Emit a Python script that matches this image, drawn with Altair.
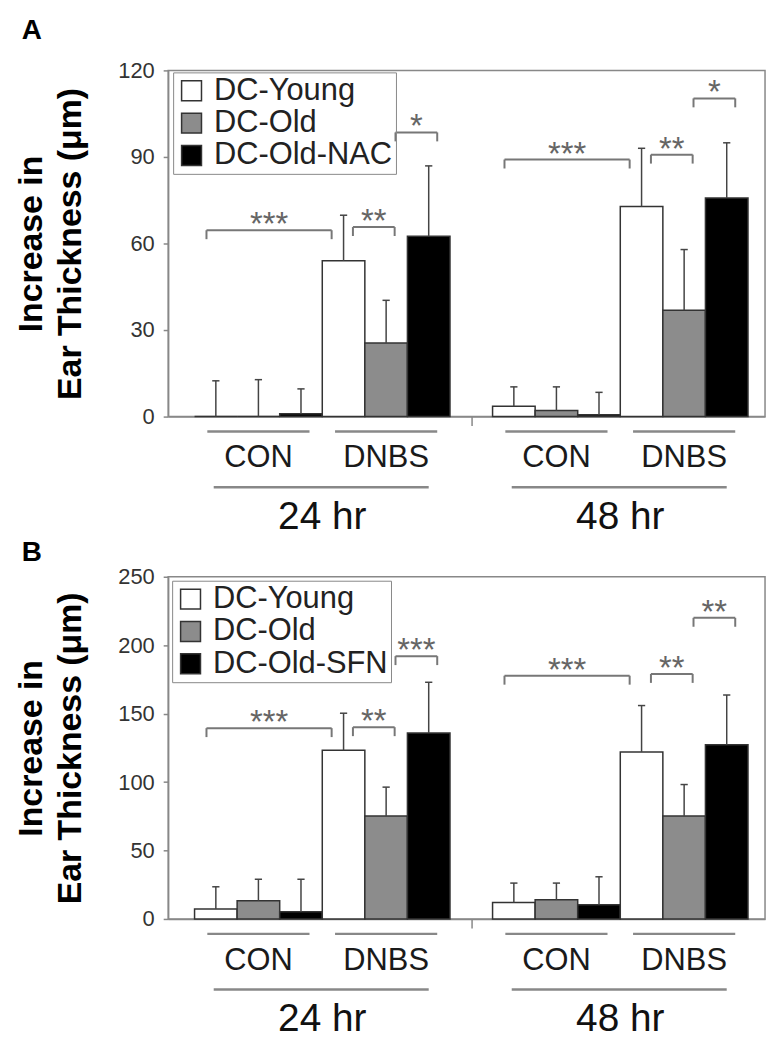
import altair as alt
import pandas as pd

# ---------------- data ----------------
times = ["24 hr", "48 hr"]
treatments = ["CON", "DNBS"]

series_A = ["DC-Young", "DC-Old", "DC-Old-NAC"]
series_B = ["DC-Young", "DC-Old", "DC-Old-SFN"]

# order: 24hr CON (Y,O,T), 24hr DNBS (Y,O,T), 48hr CON (Y,O,T), 48hr DNBS (Y,O,T)
mean_A = [0, 0, 1, 54, 25.5, 62.5, 3.6, 2.1, 0.6, 72.8, 36.9, 75.8]
err_A = [12.4, 12.8, 8.6, 15.8, 14.8, 24.4, 6.7, 8.2, 7.8, 20.2, 21.0, 19.1]

mean_B = [7.3, 13.3, 5.3, 123.2, 75.2, 135.8, 12.1, 14.1, 10.4, 122.0, 75.2, 127.3]
err_B = [16.2, 15.7, 23.7, 27.1, 21.1, 37.1, 14.1, 12.1, 20.4, 33.9, 23.0, 36.3]

# significance brackets: (left bar, right bar, height, label)
brackets_A = [(0, 3, 64.6, "***"), (3, 4, 65.7, "**"), (4, 5, 98.5, "*"),
              (6, 9, 89.1, "***"), (9, 10, 90.8, "**"), (10, 11, 110.3, "*")]
brackets_B = [(0, 3, 139.4, "***"), (3, 4, 140.1, "**"), (4, 5, 192.0, "***"),
              (6, 9, 177.7, "***"), (9, 10, 179.0, "**"), (10, 11, 220.0, "**")]

ticks_A = [0, 30, 60, 90, 120]
ticks_B = [0, 50, 100, 150, 200, 250]

# ---------------- styling ----------------
FILLS = ["white", "#8c8c8c", "black"]
W = 600
XDOM = [-0.62, 13.4]
FONT = "Liberation Sans"
GRAY = "#888888"


def slot(i):
    return i if i < 6 else i + 1


def panel(series, means, errs, brackets, ymax, yticks, height, letter, lx, ly):
    n = len(series)
    rows = []
    for i, (m, e) in enumerate(zip(means, errs)):
        s = slot(i)
        rows.append({"series": series[i % n], "value": m, "top": m + e,
                     "x0": s, "x1": s + 1, "xc": s + 0.5,
                     "c0": s + 0.5 - 0.085, "c1": s + 0.5 + 0.085})
    bars = pd.DataFrame(rows)

    xs = alt.Scale(domain=XDOM, nice=False, zero=False)
    ys = alt.Scale(domain=[0, ymax], nice=False)
    leg_px = 9.0
    leg = leg_px * ymax / height

    base = alt.Chart(bars)
    rect = base.mark_rect(stroke="#333333", strokeWidth=1.5).encode(
        x=alt.X("x0:Q", scale=xs,
                axis=alt.Axis(values=[6.5], labels=False, title=None, grid=False,
                              tickSize=9, domainColor=GRAY, tickColor=GRAY,
                              domainWidth=1.5, tickWidth=1.5)),
        x2="x1:Q",
        y=alt.Y("value:Q", scale=ys,
                axis=alt.Axis(values=yticks, grid=False, tickSize=5,
                              labelFontSize=22, labelPadding=9, labelColor="#333333",
                              labelFont=FONT, domainColor=GRAY, tickColor=GRAY,
                              domainWidth=1.5, tickWidth=1.5,
                              title=["Increase in", "Ear Thickness (\u03bcm)"],
                              titleFontSize=34, titleFontWeight="bold",
                              titleFont=FONT, titleLineHeight=40,
                              titlePadding=30, titleColor="black")),
        y2=alt.datum(0),
        fill=alt.Fill("series:N",
                      scale=alt.Scale(domain=series, range=FILLS),
                      sort=series,
                      legend=alt.Legend(title=None, orient="none", legendX=lx, legendY=ly,
                                        symbolType="square", symbolSize=400,
                                        symbolStrokeColor="#333333", symbolStrokeWidth=1.5,
                                        labelFontSize=31, labelFont=FONT,
                                        labelColor="#222222", labelOffset=7,
                                        labelLimit=400,
                                        rowPadding=0.5, padding=3,
                                        strokeColor=GRAY)),
    )
    whisk = base.mark_rule(color="#444444", strokeWidth=1.5).encode(
        x="xc:Q", y="value:Q", y2="top:Q")
    cap = base.mark_rule(color="#444444", strokeWidth=1.5).encode(
        x="c0:Q", x2="c1:Q", y="top:Q")

    brows = []
    for a, b, h, lab in brackets:
        sa, sb = slot(a), slot(b)
        if b - a > 1:
            xl, xr = sa + 0.5 - 0.22, sb + 0.5 - 0.28
        else:
            xl, xr = sa + 0.5 + 0.22, sb + 0.5 + 0.2
        brows.append({"xl": xl, "xr": xr, "xm": (xl + xr) / 2, "y": h,
                      "yl": h - leg, "label": lab})
    bdf = pd.DataFrame(brows)
    bb = alt.Chart(bdf)
    bh = bb.mark_rule(color="#777777", strokeWidth=2).encode(x="xl:Q", x2="xr:Q", y="y:Q")
    bl = bb.mark_rule(color="#777777", strokeWidth=2).encode(x="xl:Q", y="y:Q", y2="yl:Q")
    br = bb.mark_rule(color="#777777", strokeWidth=2).encode(x="xr:Q", y="y:Q", y2="yl:Q")
    bt = bb.mark_text(font=FONT, fontSize=33, color="#666666", baseline="middle",
                      dy=-5).encode(x="xm:Q", y="y:Q", text="label:N")

    # group annotations under the axis
    sub, grp = [], []
    for ti, t in enumerate(times):
        b0 = 0 if ti == 0 else 7
        for gi, tr in enumerate(treatments):
            s = b0 + 3 * gi
            sub.append({"x0": s + 0.3, "x1": s + 2.7, "xc": s + 1.5, "label": tr})
        grp.append({"x0": b0 + 0.45, "x1": b0 + 5.5, "xc": b0 + 3, "label": t})
    sdf, gdf = pd.DataFrame(sub), pd.DataFrame(grp)
    sl = alt.Chart(sdf).mark_rule(color=GRAY, strokeWidth=2.5).encode(
        x="x0:Q", x2="x1:Q", y=alt.value(height + 15))
    st = alt.Chart(sdf).mark_text(font=FONT, fontSize=31, color="#1a1a1a",
                                  baseline="middle").encode(
        x="xc:Q", y=alt.value(height + 42), text="label:N")
    gl = alt.Chart(gdf).mark_rule(color=GRAY, strokeWidth=2.5).encode(
        x="x0:Q", x2="x1:Q", y=alt.value(height + 71))
    gt = alt.Chart(gdf).mark_text(font=FONT, fontSize=39, color="#111111",
                                  baseline="middle").encode(
        x="xc:Q", y=alt.value(height + 101), text="label:N")

    lt = alt.Chart(pd.DataFrame({"t": [letter]})).mark_text(
        font=FONT, fontSize=28, fontWeight="bold", color="black",
        baseline="middle").encode(
        text="t:N", x=alt.value(-137), y=alt.value(-40 if letter == "A" else -24))

    return alt.layer(rect, whisk, cap, bh, bl, br, bt, sl, st, gl, gt, lt).properties(
        width=W, height=height)


pA = panel(series_A, mean_A, err_A, brackets_A, 120, ticks_A, 348, "A", 5, 2)
pB = panel(series_B, mean_B, err_B, brackets_B, 250, ticks_B, 344, "B", 4, 4)

chart = alt.vconcat(pA, pB, spacing=0).resolve_scale(
    fill="independent", y="independent").resolve_legend(fill="independent").configure(
    font=FONT).configure_view(stroke=GRAY, strokeWidth=1.5)

chart.save("out.html", embed_options={"renderer": "svg", "actions": False})
